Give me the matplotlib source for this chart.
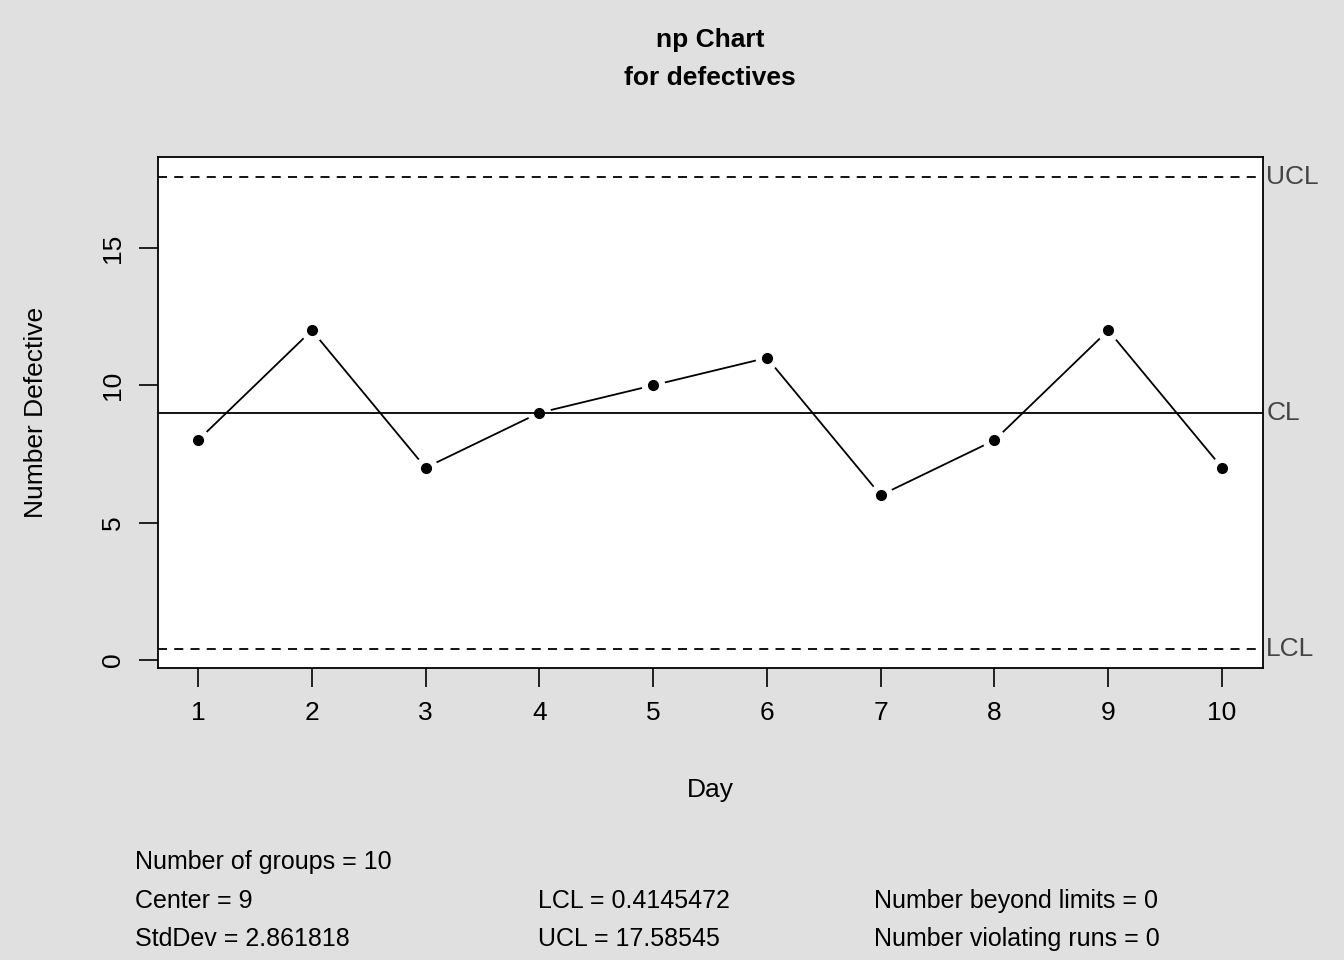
import matplotlib
matplotlib.use("Agg")
import matplotlib.pyplot as plt

days = [1, 2, 3, 4, 5, 6, 7, 8, 9, 10]
defectives = [8, 12, 7, 9, 10, 11, 6, 8, 12, 7]
center = 9
lcl = 0.4145472
ucl = 17.58545
stddev = 2.861818

plt.rcParams["font.family"] = ["Liberation Sans", "DejaVu Sans"]
bg = "#e0e0e0"
fig = plt.figure(figsize=(13.44, 9.6), dpi=100, facecolor=bg)
ax = fig.add_axes([158 / 1344, 1 - 668 / 960, 1105 / 1344, 511 / 960])
ax.set_facecolor("white")

# data line with gaps around the points (R type "b")
ax.plot(days, defectives, color="black", lw=1.3, marker="o", ms=16,
        mfc="white", mec="white", zorder=2)
ax.axhline(center, color="black", lw=1.3, zorder=3)
ax.axhline(ucl, color="black", lw=1.3, ls=(0, (5, 4)), zorder=3)
ax.axhline(lcl, color="black", lw=1.3, ls=(0, (5, 4)), zorder=3)
ax.plot(days, defectives, ls="none", marker="o", ms=7, color="black", zorder=4)

ax.set_xlim(0.648, 10.36)
ax.set_ylim(-0.29, 18.31)
ax.set_xticks(days)
ax.set_yticks([0, 5, 10, 15])
ax.tick_params(labelsize=19, length=14, width=1.2, pad=10)
for lab in ax.get_yticklabels():
    lab.set_rotation(90)
    lab.set_va("center")
for s in ax.spines.values():
    s.set_linewidth(1.3)

for y, t in [(ucl, "UCL"), (center, "CL"), (lcl, "LCL")]:
    ax.text(1.003, y, t, transform=ax.get_yaxis_transform(), fontsize=19,
            color="#444444", va="center", ha="left")

ax.set_xlabel("Day", fontsize=19, labelpad=38)
ax.set_ylabel("Number Defective", fontsize=19, labelpad=38)
fig.text(710 / 1344, 1 - 40 / 960, "np Chart", ha="center", va="center",
         fontsize=19, fontweight="bold")
fig.text(710 / 1344, 1 - 78 / 960, "for defectives", ha="center", va="center",
         fontsize=19, fontweight="bold")

fs = 18
fig.text(135 / 1344, 1 - 862 / 960, "Number of groups = 10", fontsize=fs, va="center")
fig.text(135 / 1344, 1 - 901 / 960, f"Center = {center}", fontsize=fs, va="center")
fig.text(135 / 1344, 1 - 939 / 960, f"StdDev = {stddev}", fontsize=fs, va="center")
fig.text(538 / 1344, 1 - 901 / 960, f"LCL = {lcl}", fontsize=fs, va="center")
fig.text(538 / 1344, 1 - 939 / 960, f"UCL = {ucl}", fontsize=fs, va="center")
fig.text(874 / 1344, 1 - 901 / 960, "Number beyond limits = 0", fontsize=fs, va="center")
fig.text(874 / 1344, 1 - 939 / 960, "Number violating runs = 0", fontsize=fs, va="center")

fig.savefig("out.png", dpi=100, facecolor=bg)
